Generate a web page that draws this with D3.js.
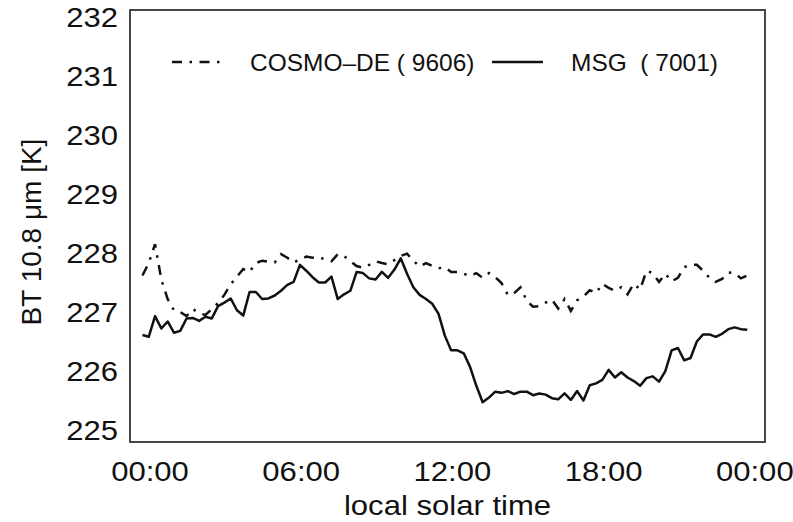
<!DOCTYPE html>
<html><head><meta charset="utf-8">
<script src="https://cdn.jsdelivr.net/npm/d3@7"></script>
<style>
body{margin:0;background:#fff}
svg{display:block}
text{font-family:"Liberation Sans",Arial,Helvetica,sans-serif;fill:#111;white-space:pre}
</style>
</head><body>
<svg id="c" width="793" height="522"></svg>
<script>
// local solar time (hours)
const times = [-0.30,-0.05,
 0.20,0.45,0.70,0.95, 1.20,1.45,1.70,1.95, 2.20,2.45,2.70,2.95, 3.20,3.45,3.70,3.95,
 4.20,4.45,4.70,4.95, 5.20,5.45,5.70,5.95, 6.20,6.45,6.70,6.95, 7.20,7.45,7.70,7.95,
 8.20,8.45,8.70,8.95, 9.20,9.45,9.70,9.95, 10.20,10.45,10.70,10.95, 11.20,11.45,11.70,11.95,
 12.20,12.45,12.70,12.95, 13.20,13.45,13.70,13.95, 14.20,14.45,14.70,14.95, 15.20,15.45,15.70,15.95,
 16.20,16.45,16.70,16.95, 17.20,17.45,17.70,17.95, 18.20,18.45,18.70,18.95, 19.20,19.45,19.70,19.95,
 20.20,20.45,20.70,20.95, 21.20,21.45,21.70,21.95, 22.20,22.45,22.70,22.95, 23.20,23.45,23.70];

// COSMO-DE (dash-dot)
const cosmo = [227.62,227.83,228.15,227.55,227.22,227.03,227.00,226.93,227.05,226.98,
 226.95,227.05,227.15,227.29,227.47,227.60,227.73,227.68,227.83,227.87,
 227.85,227.84,227.98,227.92,227.84,227.89,227.94,227.92,227.93,227.89,
 227.86,227.98,227.95,227.86,227.78,227.75,227.80,227.86,227.83,227.81,
 227.88,227.95,227.99,227.87,227.77,227.83,227.78,227.74,227.76,227.68,
 227.68,227.65,227.61,227.66,227.58,227.66,227.59,227.49,227.29,227.32,
 227.42,227.19,227.09,227.10,227.16,227.21,227.06,227.22,227.02,227.20,
 227.26,227.37,227.32,227.48,227.41,227.36,227.42,227.30,227.48,227.38,
 227.70,227.66,227.51,227.65,227.52,227.58,227.76,227.80,227.80,227.70,
 227.58,227.51,227.56,227.67,227.66,227.57,227.62];

// MSG (solid)
const msg = [226.61,226.58,226.93,226.72,226.84,226.65,226.68,226.89,226.90,226.85,
 226.92,226.89,227.10,227.16,227.23,227.03,226.94,227.34,227.34,227.22,
 227.23,227.28,227.36,227.46,227.51,227.80,227.70,227.59,227.50,227.50,
 227.60,227.22,227.30,227.36,227.68,227.66,227.57,227.55,227.68,227.58,
 227.72,227.91,227.65,227.42,227.29,227.22,227.14,226.97,226.60,226.35,
 226.35,226.30,226.07,225.75,225.47,225.55,225.65,225.63,225.66,225.61,
 225.65,225.65,225.59,225.62,225.60,225.54,225.52,225.62,225.51,225.66,
 225.50,225.76,225.79,225.85,226.02,225.89,225.98,225.89,225.83,225.75,
 225.88,225.91,225.82,226.00,226.35,226.39,226.18,226.22,226.50,226.62,
 226.62,226.58,226.63,226.71,226.74,226.71,226.70];

const yTicks = [225,226,227,228,229,230,231,232];
const xTicks = [0,6,12,18,24];
const xTickLabels = ["00:00","06:00","12:00","18:00","00:00"];
const seriesNames = ["COSMO\u2013DE ( 9606)","MSG  ( 7001)"];
const xTitle = "local solar time";
const yTitle = "BT 10.8 \u03bcm [K]";

const svg = d3.select("#c");
const L=130,R=765,T=10,B=442;
const x = d3.scaleLinear().domain([-0.794,24.405]).range([L,R]);
const y = d3.scaleLinear().domain([224.797,232.119]).range([B,T]);
const SX = 1.13;

function stext(px,py,str,size,anchor,sx){
  return svg.append("text")
    .attr("transform",`translate(${px},${py}) scale(${sx},1)`)
    .attr("text-anchor",anchor).attr("font-size",size).text(str);
}

// y tick labels
yTicks.forEach(v=>stext(118,y(v)+10,String(v),27.5,"end",SX));
// x tick labels
xTicks.forEach((h,i)=>stext(x(h),481,xTickLabels[i],27.5,"middle",SX));
// axis titles
stext((L+R)/2,515,xTitle,27.5,"middle",SX);
svg.append("text").attr("transform",`translate(41,${(T+B)/2+6}) rotate(-90)`)
  .attr("text-anchor","middle").attr("font-size",28).text(yTitle);

const line = d3.line().x((d,i)=>x(times[i])).y(d=>y(d));
svg.append("path").datum(cosmo).attr("d",line)
  .attr("fill","none").attr("stroke","#111").attr("stroke-width",2.5)
  .attr("stroke-dasharray","10,7.5,2.5,7.5");
svg.append("path").datum(msg).attr("d",line)
  .attr("fill","none").attr("stroke","#111").attr("stroke-width",2.5)
  .attr("stroke-linejoin","round");

// frame
svg.append("rect").attr("x",L).attr("y",T).attr("width",R-L).attr("height",B-T)
  .attr("fill","none").attr("stroke","#333").attr("stroke-width",1.8);

// legend
svg.append("line").attr("x1",172).attr("x2",223).attr("y1",62).attr("y2",62)
  .attr("stroke","#111").attr("stroke-width",2.5).attr("stroke-dasharray","10,7.5,2.5,7.5");
stext(250,70.5,seriesNames[0],24,"start",1.02);
svg.append("line").attr("x1",492).attr("x2",543).attr("y1",62).attr("y2",62)
  .attr("stroke","#111").attr("stroke-width",2.5);
stext(571,70.5,seriesNames[1],24,"start",1.02);
</script>
</body></html>
